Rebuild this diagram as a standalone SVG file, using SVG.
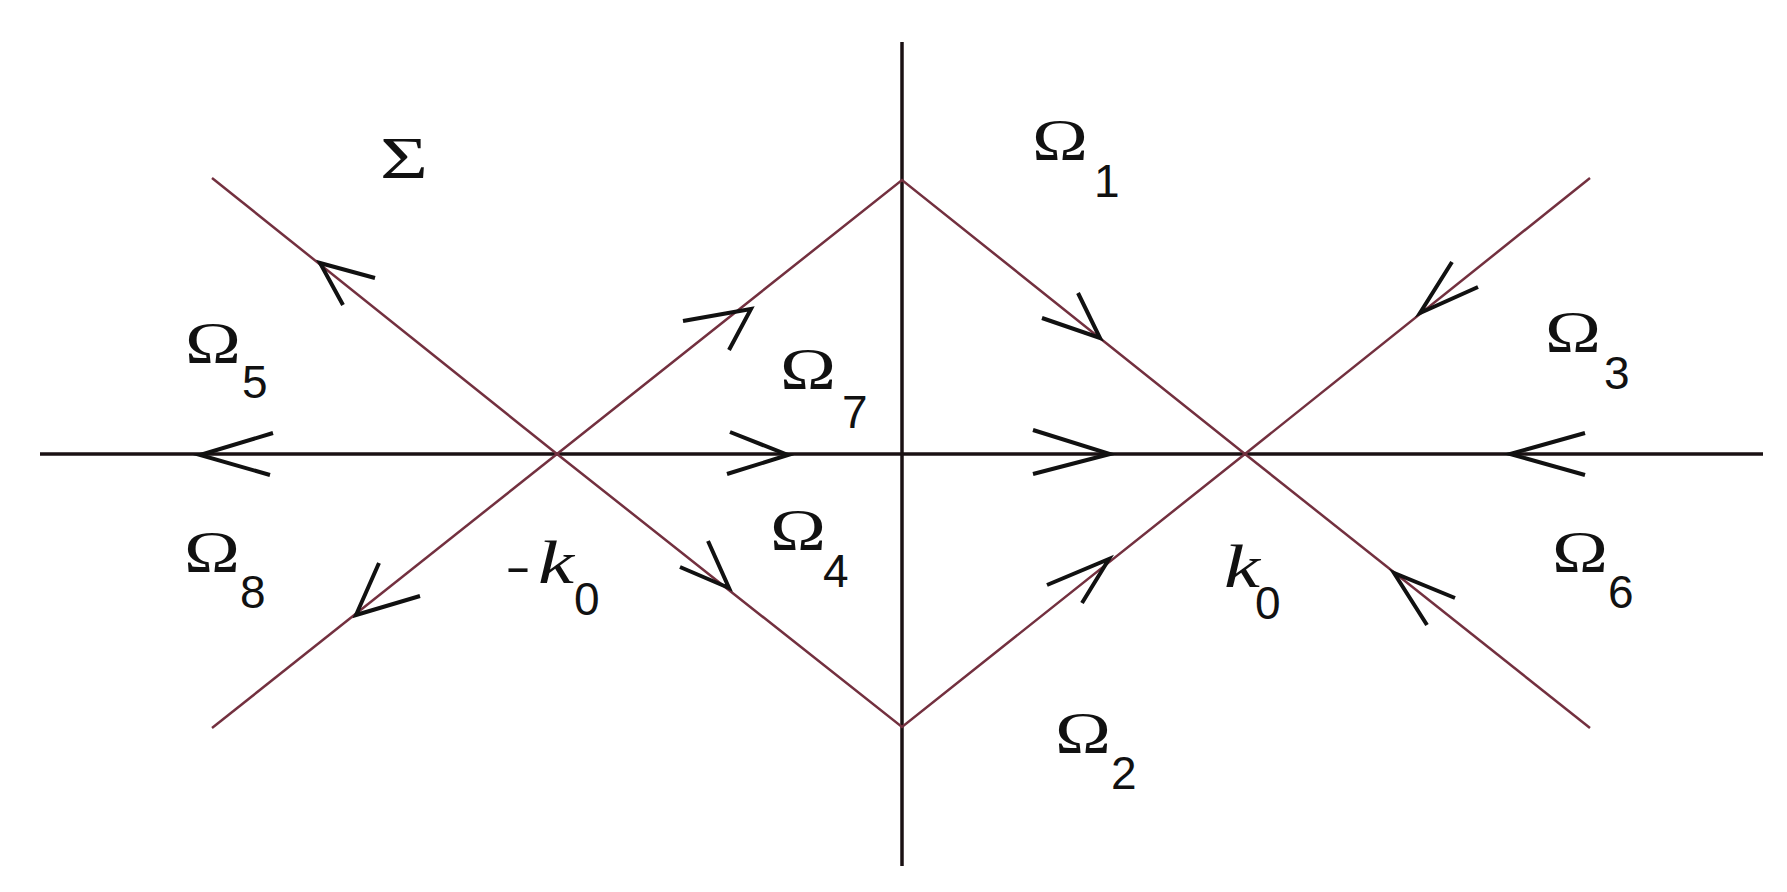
<svg xmlns="http://www.w3.org/2000/svg" width="1787" height="892" viewBox="0 0 1787 892">
<style>
.axis{stroke:#1a1113;stroke-width:3.5;fill:none}
.contour{stroke:#73303f;stroke-width:2.5;fill:none}
.arr{stroke:#111;stroke-width:4;fill:none;stroke-linejoin:miter;stroke-linecap:butt}
.om{font-family:"Liberation Serif","Times New Roman",serif;font-size:60px;fill:#111}
.sub{font-family:"Liberation Sans",Arial,sans-serif;font-size:46px;fill:#111}
.kk{font-family:"Liberation Serif","Times New Roman",serif;font-style:italic;font-size:62px;fill:#111}
</style>
<rect width="1787" height="892" fill="#fff"/>
<g id="connectors">
  <g id="axes">
    <line class="axis" x1="40" y1="454" x2="1763" y2="454"/>
    <line class="axis" x1="902" y1="42" x2="902" y2="866"/>
  </g>
  <g id="contour">
    <line class="contour" x1="212" y1="178" x2="557" y2="454"/>
    <line class="contour" x1="212" y1="728" x2="557" y2="454"/>
    <polyline class="contour" points="557,454 902,180 1245,454 902,727 557,454"/>
    <line class="contour" x1="1245" y1="454" x2="1590" y2="178"/>
    <line class="contour" x1="1245" y1="454" x2="1590" y2="728"/>
  </g>
  <g id="arrows">
    <polyline class="arr" points="375,278 320,263 343,305"/>
    <polyline class="arr" points="273,433 200,455 270,475"/>
    <polyline class="arr" points="379,563 356,615 420,596"/>
    <polyline class="arr" points="683,321 751,309 729,350"/>
    <polyline class="arr" points="708,541 729,588 680,567"/>
    <polyline class="arr" points="730,432 788,455 727,474"/>
    <polyline class="arr" points="1033,430 1110,454 1033,474"/>
    <polyline class="arr" points="1078,293 1100,338 1042,318"/>
    <polyline class="arr" points="1047,585 1109,559 1082,603"/>
    <polyline class="arr" points="1452,262 1420,313 1478,287"/>
    <polyline class="arr" points="1585,433 1510,454 1585,475"/>
    <polyline class="arr" points="1427,625 1394,573 1455,598"/>
  </g>
</g>
<g id="label-sigma"><text class="om" x="380" y="178" textLength="48" lengthAdjust="spacingAndGlyphs">Σ</text></g>
<g id="label-omega1"><text class="om" x="1032" y="160" textLength="56" lengthAdjust="spacingAndGlyphs">Ω</text><text class="sub" x="1094" y="197">1</text></g>
<g id="label-omega2"><text class="om" x="1055" y="753" textLength="56" lengthAdjust="spacingAndGlyphs">Ω</text><text class="sub" x="1111" y="789">2</text></g>
<g id="label-omega3"><text class="om" x="1545" y="352" textLength="56" lengthAdjust="spacingAndGlyphs">Ω</text><text class="sub" x="1604" y="389">3</text></g>
<g id="label-omega4"><text class="om" x="770" y="550" textLength="56" lengthAdjust="spacingAndGlyphs">Ω</text><text class="sub" x="823" y="587">4</text></g>
<g id="label-omega5"><text class="om" x="185" y="363" textLength="56" lengthAdjust="spacingAndGlyphs">Ω</text><text class="sub" x="242" y="398">5</text></g>
<g id="label-omega6"><text class="om" x="1552" y="572" textLength="56" lengthAdjust="spacingAndGlyphs">Ω</text><text class="sub" x="1608" y="608">6</text></g>
<g id="label-omega7"><text class="om" x="780" y="389" textLength="56" lengthAdjust="spacingAndGlyphs">Ω</text><text class="sub" x="842" y="428">7</text></g>
<g id="label-omega8"><text class="om" x="184" y="572" textLength="56" lengthAdjust="spacingAndGlyphs">Ω</text><text class="sub" x="240" y="608">8</text></g>
<g id="label-minus-k0"><text class="sub" x="505" y="583" textLength="26" lengthAdjust="spacingAndGlyphs">-</text><text class="kk" x="538" y="583" textLength="36" lengthAdjust="spacingAndGlyphs">k</text><text class="sub" x="574" y="615">0</text></g>
<g id="label-k0"><text class="kk" x="1224" y="587" textLength="36" lengthAdjust="spacingAndGlyphs">k</text><text class="sub" x="1255" y="619">0</text></g>
</svg>
